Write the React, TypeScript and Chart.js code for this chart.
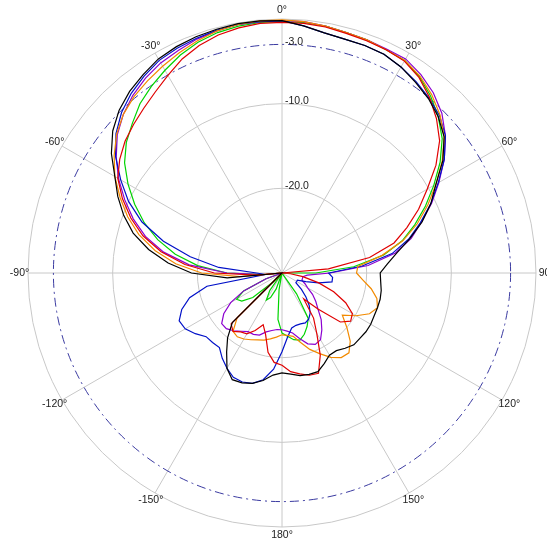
import React, { useEffect, useRef } from 'react';
import { Chart, registerables } from 'chart.js';

Chart.register(...registerables);

// Measurement angles (degrees, clockwise from the front axis)
const ANGLES = [
  0, 5, 10, 15, 20, 25, 30, 35, 40, 45, 50, 55, 60, 65, 70, 75, 80, 85,
  90, 95, 100, 105, 110, 115, 120, 125, 130, 135, 140, 145, 150, 155, 160, 165, 170, 175,
  180, 185, 190, 195, 200, 205, 210, 215, 220, 225, 230, 235, 240, 245, 250, 255, 260, 265,
  270, 275, 280, 285, 290, 295, 300, 305, 310, 315, 320, 325, 330, 335, 340, 345, 350, 355,
];

// Spoke labels every 30°
const SPOKE_ANGLES = [0, 30, 60, 90, 120, 150, 180, 210, 240, 270, 300, 330];
const SPOKE_LABELS = ['0°', '30°', '60°', '90', '120°', '150°', '180°', '-150°', '-120°', '-90°', '-60°', '-30°'];

// Level rings (dB)
const SCALE_MIN = -30;
const SCALE_MAX = 0;
const RING_STEP = 10;
const RING_VALUES = [-3, -10, -20];
const RING_LABELS = ['-3.0', '-10.0', '-20.0'];
const REF_DB = -3;

// Series (dB at each angle in ANGLES)
const BLACK = [
  -0.2, -0.7, -1.2, -1.4, -1.4, -1.5, -1.9, -2.5, -3.1, -3.9, -5.0, -6.8, -9.0, -10.6, -12.4, -14.4, -16.2, -17.5,
  -18.4, -18.3, -18.1, -18.0, -18.0, -18.0, -17.9, -17.9, -18.0, -18.0, -18.4, -18.8, -18.8, -18.2, -17.6, -17.6, -17.7, -18.0,
  -18.2, -17.9, -17.1, -16.5, -16.2, -16.1, -17.0, -18.6, -20.0, -21.7, -30, -30, -30, -30, -30, -30, -30, -23.5,
  -19.3, -16.5, -14.0, -11.8, -10.1, -8.6, -7.2, -5.4, -3.9, -2.8, -2.0, -1.4, -0.8, -0.5, -0.3, -0.2, -0.1, -0.1,
];
const BLUE = [
  -0.2, -0.7, -1.2, -1.4, -1.4, -1.5, -1.9, -2.4, -3.0, -3.7, -4.8, -6.6, -8.7, -10.6, -12.6, -14.5, -16.8, -20.5,
  -24.5, -24.0, -24.0, -25.5, -27, -28, -28, -28, -27, -26, -25, -24.2, -23.7, -23.5, -23.6, -23.6, -23.4, -22.4,
  -20.7, -18.6, -17.2, -16.5, -16.3, -16.4, -17.0, -17.7, -18.5, -18.4, -18.3, -17.5, -16.8, -16.6, -17.4, -18.7, -21.0, -28,
  -27, -22.5, -19.0, -15.5, -12.4, -10.0, -8.0, -6.0, -4.4, -3.2, -2.3, -1.6, -1.0, -0.7, -0.5, -0.3, -0.2, -0.2,
];
const RED = [
  -0.4, -0.4, -0.5, -0.7, -0.8, -0.9, -1.1, -1.8, -2.9, -4.2, -5.7, -7.8, -10.2, -12.2, -14.3, -16.3, -19.5, -24.5,
  -30, -29, -27.5, -25.5, -23.5, -21.7, -20.4, -20.1, -21.0, -24.0, -26.0, -23.5, -21.8, -19.3, -17.4, -17.5, -17.9, -18.3,
  -19.1, -19.4, -20.5, -22.5, -23.5, -22.5, -21.7, -21.5, -21.0, -21.5, -30, -30, -30, -30, -30, -30, -30, -27,
  -22.0, -18.5, -15.5, -13.0, -11.0, -9.2, -7.6, -6.6, -5.8, -5.2, -4.6, -3.9, -3.05, -2.1, -1.4, -0.9, -0.6, -0.4,
];
const ORANGE = [
  -0.1, -0.2, -0.4, -0.6, -0.7, -0.9, -1.0, -1.6, -2.5, -3.6, -5.0, -6.9, -9.0, -11.0, -13.0, -15.2, -18.0, -21.0,
  -21.2, -20.4, -19.3, -18.4, -18.0, -18.6, -19.9, -21.3, -20.0, -18.6, -17.7, -17.8, -18.5, -19.5, -20.4, -21.5, -22.4, -22.6,
  -22.7, -22.4, -22.1, -21.8, -21.6, -21.3, -21.0, -20.8, -21.0, -22.5, -30, -30, -30, -30, -30, -30, -30, -25,
  -20.5, -17.4, -14.8, -12.5, -10.6, -8.9, -7.2, -5.8, -4.5, -3.5, -2.8, -2.3, -1.8, -1.3, -0.8, -0.4, -0.2, -0.1,
];
const GREEN = [
  -0.3, -0.3, -0.4, -0.6, -0.7, -0.9, -1.0, -1.7, -2.7, -3.9, -5.3, -7.2, -9.3, -11.3, -13.3, -15.3, -17.8, -21.5,
  -26, -30, -30, -30, -30, -30, -30, -30, -30, -30, -30, -27, -23.8, -23.0, -22.3, -21.8, -22.0, -22.5,
  -22.9, -24.5, -28, -30, -28, -26.8, -26.3, -27.5, -30, -28.5, -25.5, -24.2, -23.8, -25.0, -28, -30, -30, -28,
  -23.5, -20.0, -17.2, -14.8, -12.7, -10.8, -9.0, -7.3, -6.0, -5.0, -3.9, -3.1, -2.35, -1.6, -1.0, -0.6, -0.4, -0.3,
];
const PURPLE = [
  -0.2, -0.2, -0.4, -0.6, -0.7, -0.8, -0.8, -1.4, -2.2, -3.3, -4.8, -6.6, -8.6, -10.5, -12.5, -14.2, -16.4, -19.8,
  -24.3, -27, -27.5, -27.5, -27.5, -27, -26.5, -25.6, -24.8, -24.0, -22.8, -21.8, -20.9, -20.7, -21.1, -22.0, -22.8, -23.1,
  -23.3, -23.3, -23.1, -22.8, -22.2, -22.0, -22.0, -21.6, -21.1, -20.7, -20.7, -21.6, -23.0, -25.0, -28, -30, -30, -28,
  -23.5, -19.0, -15.8, -13.3, -11.3, -9.5, -7.7, -6.1, -4.6, -3.5, -2.6, -1.9, -1.35, -1.0, -0.6, -0.4, -0.2, -0.2,
];

const SERIES = [
  { name: 'black', data: BLACK, color: '#000000' },
  { name: 'red', data: RED, color: '#e00000' },
  { name: 'orange', data: ORANGE, color: '#f28a00' },
  { name: 'blue', data: BLUE, color: '#0010c8' },
  { name: 'purple', data: PURPLE, color: '#8c00d0' },
  { name: 'green', data: GREEN, color: '#00d400' },
];

const GRID_COLOR = '#c8c8c8';
const TEXT_COLOR = '#222222';
const REF_COLOR = '#3a3aa0';
const FONT = '10.5px "Liberation Sans", Arial, sans-serif';

const overlayPlugin = {
  id: 'polarOverlay',
  beforeDatasetsDraw(chart: any) {
    const s = chart.scales.r;
    const ctx = chart.ctx;
    const rr = s.getDistanceFromCenterForValue(REF_DB);
    ctx.save();
    ctx.strokeStyle = REF_COLOR;
    ctx.lineWidth = 1;
    ctx.setLineDash([9, 4, 2, 4]);
    ctx.beginPath();
    ctx.arc(s.xCenter, s.yCenter, rr, 0, Math.PI * 2);
    ctx.stroke();
    ctx.restore();
  },
  afterDraw(chart: any) {
    const s = chart.scales.r;
    const ctx = chart.ctx;
    const R = s.drawingArea;
    ctx.save();
    ctx.font = FONT;
    ctx.fillStyle = TEXT_COLOR;
    ctx.textAlign = 'center';
    ctx.textBaseline = 'middle';
    SPOKE_ANGLES.forEach((a, k) => {
      const idx = ANGLES.indexOf(a);
      const p = s.getPointPosition(idx, R + 8.5);
      ctx.fillText(SPOKE_LABELS[k], p.x, p.y);
    });
    ctx.textAlign = 'left';
    ctx.textBaseline = 'alphabetic';
    RING_VALUES.forEach((v, k) => {
      const d = s.getDistanceFromCenterForValue(v);
      ctx.fillText(RING_LABELS[k], s.xCenter + 3, s.yCenter - d + 0.5);
    });
    ctx.restore();
  },
};

export default function App() {
  const ref = useRef<HTMLCanvasElement>(null);
  useEffect(() => {
    const chart = new Chart(ref.current as HTMLCanvasElement, {
      type: 'radar',
      data: {
        labels: ANGLES.map((a) => `${a}°`),
        datasets: SERIES.map((s) => ({
          label: s.name,
          data: s.data,
          borderColor: s.color,
          backgroundColor: 'rgba(0,0,0,0)',
          borderWidth: 1.2,
          pointRadius: 0,
          fill: false,
          tension: 0,
        })),
      },
      options: {
        animation: false,
        responsive: true,
        maintainAspectRatio: false,
        events: [],
        layout: { padding: { left: 28, right: 11, top: 19, bottom: 15 } },
        plugins: { legend: { display: false }, tooltip: { enabled: false } },
        scales: {
          r: {
            min: SCALE_MIN,
            max: SCALE_MAX,
            ticks: { stepSize: RING_STEP, display: false },
            grid: { circular: true, color: GRID_COLOR, lineWidth: 1 },
            angleLines: {
              display: true,
              color: GRID_COLOR,
              lineWidth: (c: any) => (ANGLES[c.index] % 30 === 0 ? 1 : 0),
            },
            pointLabels: { display: false },
          },
        },
      },
      plugins: [overlayPlugin],
    });
    return () => chart.destroy();
  }, []);
  return (
    <div style={{ position: 'absolute', left: 0, top: 0, width: 547, height: 542, background: '#ffffff' }}>
      <canvas ref={ref} />
    </div>
  );
}
